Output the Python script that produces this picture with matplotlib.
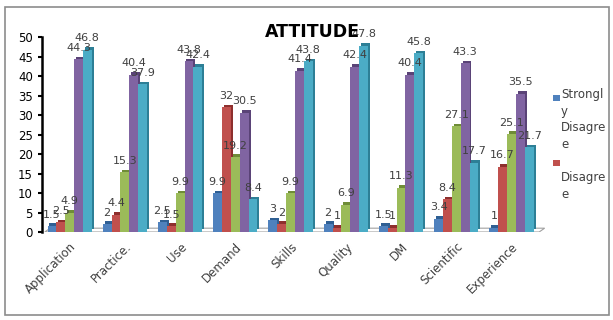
import matplotlib
matplotlib.use("Agg")
import matplotlib.pyplot as plt
import numpy as np
from matplotlib.patches import Polygon, Rectangle

categories = ["Application", "Practice.", "Use", "Demand", "Skills",
              "Quality", "DM", "Scientific", "Experience"]
strongly_disagree = [1.5, 2, 2.5, 9.9, 3, 2, 1.5, 3.4, 1]
disagree = [2.5, 4.4, 1.5, 32, 2, 1, 1, 8.4, 16.7]
neutral = [4.9, 15.3, 9.9, 19.2, 9.9, 6.9, 11.3, 27.1, 25.1]
agree = [44.3, 40.4, 43.8, 30.5, 41.4, 42.4, 40.4, 43.3, 35.5]
strongly_agree = [46.8, 37.9, 42.4, 8.4, 43.8, 47.8, 45.8, 17.7, 21.7]

series = [strongly_disagree, disagree, neutral, agree, strongly_agree]
# legend texts are wrapped/clipped as in the original chart box
legend_labels = ["Strongl\ny\nDisagre\ne", "Disagre\ne"]
colors = ["#4F81BD", "#C0504D", "#9BBB59", "#8064A2", "#4BACC6"]
shades = ["#2F5F93", "#8E2F2D", "#6F8C37", "#5A4377", "#2D7F96"]
txt = "#404040"

fig = plt.figure(figsize=(6.13, 3.2), dpi=100)
# outer chart border
fig.patches.append(Rectangle((0.008, 0.015), 0.985, 0.962, transform=fig.transFigure,
                             fill=False, edgecolor="#8c8c8c", linewidth=1.2))
ax = fig.add_axes([0.0685, 0.275, 0.82, 0.609])

x = np.arange(len(categories))
w = 0.16
dx, dy = 0.035, 0.7

# floor
floor = Polygon([[-0.45, 0], [8.5, 0], [8.6, dy * 1.4], [-0.35, dy * 1.4]],
                closed=True, facecolor="white", edgecolor="#a0a0a0", lw=0.8, zorder=0)
ax.add_patch(floor)

for i, (vals, col, sh) in enumerate(zip(series, colors, shades)):
    pos = x + (i - 2) * w
    ax.bar(pos + dx, vals, width=w, bottom=dy, color=sh, zorder=1 + i * 2, edgecolor="none")
    ax.bar(pos, vals, width=w, color=col, zorder=2 + i * 2, edgecolor="none")
    for p, v in zip(pos, vals):
        ax.text(p, v + 1.0 + dy, f"{v:g}", ha="center", va="bottom",
                fontsize=8, color=txt, zorder=20)

ax.set_xlim(-0.5, 8.6)
ax.set_ylim(0, 50)
ax.set_yticks(np.arange(0, 51, 5))
ax.set_xticks(x)
ax.set_xticklabels(categories, rotation=45, ha="right", rotation_mode="anchor",
                   fontsize=8.5, color=txt)
ax.tick_params(axis="y", labelsize=8.5, length=3, width=1.5, colors="black")
ax.tick_params(axis="x", length=0, pad=6)
for s in ["top", "right", "bottom"]:
    ax.spines[s].set_visible(False)
ax.spines["left"].set_linewidth(1.8)

fig.text(0.51, 0.9, "ATTITUDE", ha="center", va="center", fontsize=12.5,
         fontweight="bold", color="black")

# legend, drawn by hand so the wrapped labels sit like the original
legend_y = [0.725, 0.465]
for lab, col, ly in zip(legend_labels, colors, legend_y):
    fig.patches.append(Rectangle((0.902, ly - 0.042) if lab.startswith("S") else (0.902, ly + 0.015),
                                 0.011, 0.02, transform=fig.transFigure,
                                 facecolor=col, edgecolor="none"))
    fig.text(0.915, ly, lab, ha="left", va="top", fontsize=8.5, color=txt,
             linespacing=1.35)

fig.savefig("out.png", dpi=100)
